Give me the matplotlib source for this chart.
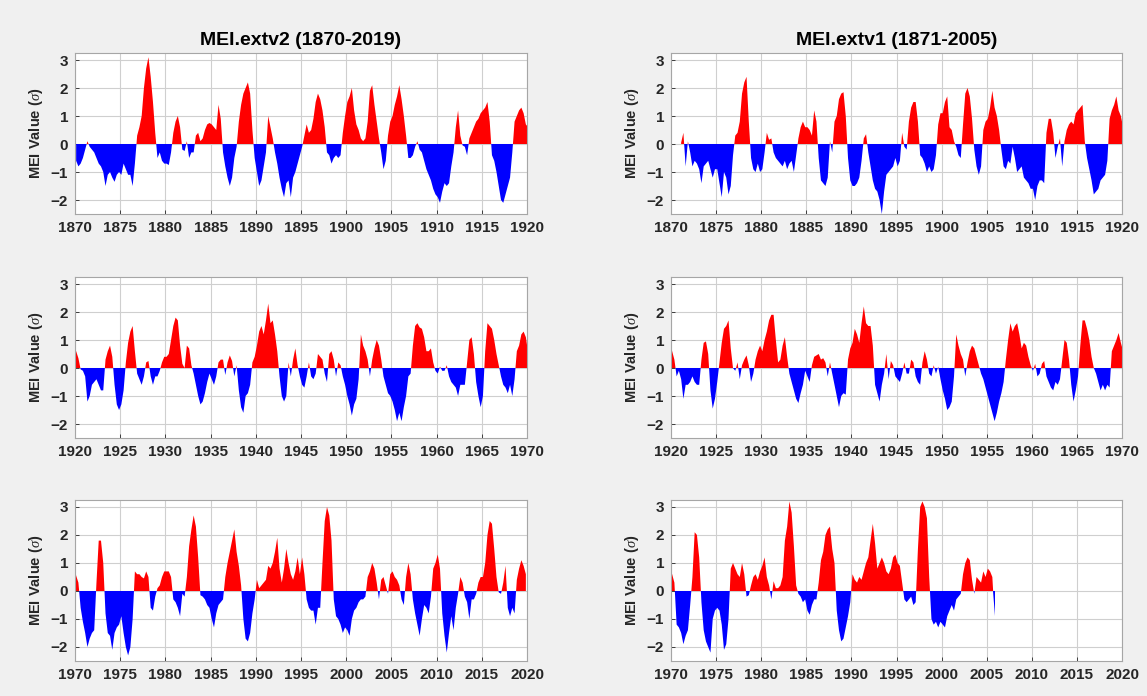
import numpy as np
import matplotlib.pyplot as plt

plt.rcParams['font.family'] = ['Liberation Sans', 'DejaVu Sans']
plt.rcParams['mathtext.fontset'] = 'custom'
plt.rcParams['mathtext.it'] = 'Liberation Serif:italic'

# Quarterly MEI values (4 per year)
v2_1870_1920 = [
    -0.6, -0.8, -0.7, -0.5,   -0.2, 0.1, -0.1, -0.2,   -0.3, -0.5, -0.7, -0.8,
    -1.0, -1.5, -1.1, -1.0,   -1.2, -1.35, -1.1, -1.0,  -1.1, -0.7, -0.9, -1.1,
    -1.1, -1.5, -0.7, 0.3,    0.6, 1.0, 2.0, 2.7,       3.1, 2.4, 1.5, 0.4,
    -0.5, -0.3, -0.6, -0.7,   -0.7, -0.75, -0.3, 0.4,   0.8, 1.0, 0.6, -0.2,
    -0.25, 0.1, -0.5, -0.3,   -0.3, 0.3, 0.4, 0.1,      0.2, 0.5, 0.7, 0.75,
    0.7, 0.6, 0.5, 1.4,       0.9, -0.3, -0.8, -1.2,    -1.5, -1.2, -0.5, -0.1,
    0.8, 1.4, 1.8, 2.0,       2.2, 1.8, 0.5, -0.5,      -1.0, -1.5, -1.3, -0.8,
    -0.3, 1.0, 0.6, 0.2,      -0.3, -0.7, -1.2, -1.6,   -1.9, -1.4, -1.3, -1.9,
    -1.2, -1.0, -0.7, -0.4,   -0.1, 0.3, 0.7, 0.4,      0.5, 0.9, 1.5, 1.8,
    1.6, 1.2, 0.6, -0.3,      -0.4, -0.7, -0.5, -0.4,   -0.5, -0.4, 0.4, 1.0,
    1.5, 1.7, 2.0, 1.2,       0.7, 0.5, 0.2, 0.1,       0.2, 0.8, 1.9, 2.1,
    1.4, 0.8, 0.2, -0.3,      -0.9, -0.6, 0.3, 0.8,     1.0, 1.4, 1.7, 2.1,
    1.6, 1.0, 0.3, -0.5,      -0.5, -0.4, -0.1, 0.1,    -0.2, -0.3, -0.6, -0.9,
    -1.1, -1.3, -1.6, -1.8,   -1.9, -2.1, -1.7, -1.4,   -1.5, -1.4, -0.8, -0.3,
    0.6, 1.2, 0.3, -0.05,     -0.1, -0.4, 0.2, 0.4,     0.6, 0.8, 0.9, 1.1,
    1.2, 1.3, 1.5, 0.8,       -0.4, -0.6, -1.0, -1.5,   -2.0, -2.1, -1.8, -1.5,
    -1.2, -0.3, 0.8, 1.0,     1.2, 1.3, 1.1, 0.7,
]
v2_1920_1970 = [
    0.6, 0.35, -0.05, -0.1,   -0.3, -1.2, -1.0, -0.6,   -0.5, -0.4, -0.6, -0.8,
    -0.8, 0.3, 0.6, 0.8,      0.4, -0.6, -1.3, -1.5,    -1.3, -0.8, 0.2, 0.9,
    1.3, 1.5, 0.6, -0.2,      -0.4, -0.6, -0.3, 0.2,    0.25, -0.3, -0.6, -0.3,
    -0.3, -0.1, 0.2, 0.4,     0.4, 0.5, 1.0, 1.5,       1.8, 1.7, 0.8, 0.15,
    0.0, 0.8, 0.7, 0.1,       -0.2, -0.6, -1.0, -1.3,   -1.2, -0.9, -0.5, -0.2,
    -0.4, -0.6, -0.3, 0.2,    0.3, 0.3, -0.25, 0.2,     0.45, 0.25, -0.3, 0.1,
    -0.8, -1.4, -1.6, -1.0,   -0.9, -0.6, 0.2, 0.4,     0.8, 1.3, 1.5, 1.2,
    1.7, 2.3, 1.6, 1.7,       1.2, 0.6, -0.3, -1.0,     -1.2, -1.0, 0.2, -0.3,
    0.3, 0.7, 0.1, -0.3,      -0.6, -0.7, -0.3, 0.2,    -0.3, -0.4, -0.2, 0.5,
    0.4, 0.3, -0.2, -0.5,     0.5, 0.6, 0.3, -0.3,      0.2, 0.1, -0.3, -0.6,
    -1.0, -1.3, -1.7, -1.3,   -1.1, -0.4, 1.2, 0.8,     0.6, 0.3, -0.3, 0.3,
    0.7, 1.0, 0.8, 0.3,       -0.3, -0.6, -0.9, -1.0,   -1.2, -1.5, -1.9, -1.6,
    -1.9, -1.4, -1.0, -0.3,   -0.2, 0.8, 1.5, 1.6,      1.45, 1.4, 1.1, 0.6,
    0.6, 0.7, 0.2, -0.1,      -0.2, 0.05, -0.1, -0.1,   0.1, -0.3, -0.5, -0.6,
    -0.7, -1.0, -0.6, -0.6,   -0.6, 0.2, 1.0, 1.1,      0.5, -0.5, -1.0, -1.4,
    -1.0, 0.6, 1.6, 1.5,      1.4, 1.0, 0.5, 0.1,       -0.3, -0.6, -0.7, -0.9,
    -0.6, -1.0, -0.4, 0.6,    0.8, 1.2, 1.3, 1.1,
]
v2_1970_2020 = [
    0.55, 0.3, -0.6, -1.1,    -1.5, -2.0, -1.7, -1.5,   -1.4, 0.3, 1.8, 1.8,
    1.0, -0.8, -1.5, -1.6,    -2.1, -1.5, -1.3, -1.2,   -0.9, -1.5, -2.0, -2.3,
    -2.0, -1.0, 0.7, 0.6,     0.6, 0.5, 0.45, 0.7,      0.5, -0.6, -0.7, -0.2,
    0.1, 0.2, 0.5, 0.7,       0.7, 0.7, 0.5, -0.3,      -0.4, -0.6, -0.9, -0.1,
    -0.2, 0.5, 1.6, 2.2,      2.7, 2.3, 1.2, -0.15,     -0.2, -0.3, -0.5, -0.6,
    -1.0, -1.3, -0.8, -0.5,   -0.4, -0.3, 0.5, 1.0,     1.4, 1.8, 2.2, 1.4,
    0.9, 0.2, -1.0, -1.7,     -1.8, -1.5, -0.8, -0.3,   0.4, 0.1, 0.2, 0.3,
    0.4, 0.9, 0.8, 1.0,       1.4, 1.9, 0.8, 0.3,       0.8, 1.5, 1.0, 0.6,
    0.4, 0.7, 1.2, 0.6,       1.2, 0.6, -0.3, -0.6,     -0.7, -0.7, -1.2, -0.6,
    -0.6, 1.0, 2.5, 3.0,      2.7, 1.8, -0.3, -0.9,     -1.0, -1.2, -1.5, -1.3,
    -1.4, -1.6, -1.0, -0.7,   -0.6, -0.4, -0.3, -0.3,   -0.2, 0.5, 0.7, 1.0,
    0.8, 0.3, -0.3, 0.4,      0.5, 0.2, -0.1, 0.6,      0.7, 0.5, 0.4, 0.2,
    -0.3, -0.5, 0.5, 1.0,     0.6, -0.3, -0.8, -1.2,    -1.6, -1.0, -0.5, -0.6,
    -0.8, -0.2, 0.8, 1.0,     1.3, 0.8, -0.8, -1.6,     -2.2, -1.5, -0.9, -1.4,
    -0.6, -0.1, 0.5, 0.3,     -0.2, -0.4, -1.0, -0.3,   -0.3, -0.1, 0.3, 0.5,
    0.5, 1.0, 2.0, 2.5,       2.4, 1.5, 0.5, -0.05,     -0.1, 0.3, 0.9, -0.6,
    -0.9, -0.6, -0.8, 0.4,    0.8, 1.1, 0.9, 0.6,
]
v1_1871_1920 = [
    0.05, 0.4, -0.8, 0.1,     -0.3, -0.8, -0.6, -0.7,   -0.9, -1.4, -0.8, -0.7,
    -0.6, -0.9, -1.2, -0.9,   -0.9, -1.4, -1.9, -1.0,   -1.2, -1.8, -1.5, -0.4,
    0.3, 0.4, 0.8, 1.8,       2.2, 2.4, 0.8, -0.5,      -0.9, -1.0, -0.7, -1.0,
    -0.9, -0.3, 0.4, 0.15,    0.2, -0.3, -0.5, -0.6,    -0.7, -0.8, -0.6, -0.9,
    -0.7, -0.6, -1.0, -0.4,   0.2, 0.6, 0.8, 0.6,       0.6, 0.5, 0.3, 1.2,
    0.8, -0.5, -1.3, -1.4,    -1.5, -1.2, 0.1, -0.3,    0.8, 1.0, 1.6, 1.8,
    1.85, 1.0, -0.5, -1.3,    -1.5, -1.5, -1.4, -1.2,   -0.6, 0.2, 0.35, -0.3,
    -0.8, -1.3, -1.6, -1.7,   -2.0, -2.5, -1.7, -1.1,   -1.0, -0.9, -0.8, -0.5,
    -0.8, -0.6, 0.4, -0.1,    -0.2, 0.8, 1.3, 1.5,      1.5, 0.8, -0.4, -0.5,
    -0.7, -1.0, -0.8, -1.0,   -0.9, -0.4, 0.7, 1.1,     1.1, 1.5, 1.7, 0.6,
    0.5, 0.1, -0.1, -0.4,     -0.5, 0.7, 1.8, 2.0,      1.7, 0.9, -0.2, -0.8,
    -1.1, -0.8, 0.5, 0.8,     0.9, 1.3, 1.9, 1.3,       1.0, 0.5, -0.2, -0.8,
    -0.9, -0.6, -0.7, -0.1,   -0.5, -1.0, -0.9, -0.8,   -1.2, -1.3, -1.4, -1.6,
    -1.6, -2.0, -1.5, -1.3,   -1.3, -1.4, 0.4, 0.9,     0.9, 0.4, -0.5, -0.1,
    0.2, -0.8, 0.1, 0.5,      0.7, 0.8, 0.7, 1.1,       1.2, 1.3, 1.4, 0.1,
    -0.5, -0.9, -1.3, -1.8,   -1.7, -1.6, -1.3, -1.2,   -1.1, -0.6, 0.9, 1.2,
    1.4, 1.7, 1.2, 1.0,
]
v1_1920_1970 = [
    0.6, 0.3, -0.3, -0.1,     -0.4, -1.1, -0.6, -0.6,   -0.5, -0.3, -0.5, -0.6,
    -0.6, 0.3, 0.9, 0.95,     0.5, -0.8, -1.45, -1.1,   -0.5, 0.2, 0.9, 1.4,
    1.5, 1.7, 0.7, 0.0,       -0.1, 0.2, -0.4, 0.1,     0.3, 0.45, 0.1, -0.5,
    -0.2, 0.3, 0.6, 0.8,      0.6, 1.0, 1.3, 1.7,       1.9, 1.9, 1.0, 0.2,
    0.3, 0.8, 1.1, 0.4,       -0.2, -0.5, -0.8, -1.1,   -1.25, -0.9, -0.6, -0.1,
    -0.3, -0.5, 0.1, 0.4,     0.45, 0.5, 0.3, 0.35,     0.2, -0.3, 0.2, -0.2,
    -0.6, -1.0, -1.4, -1.0,   -0.9, -0.95, 0.3, 0.7,    0.9, 1.4, 1.2, 0.9,
    1.6, 2.2, 1.6, 1.5,       1.5, 0.8, -0.6, -0.9,     -1.2, -0.6, -0.2, 0.5,
    -0.4, 0.25, 0.1, -0.3,    -0.4, -0.5, -0.2, 0.2,    -0.2, -0.2, 0.3, 0.2,
    -0.3, -0.5, -0.6, 0.2,    0.6, 0.3, -0.2, -0.3,     0.1, -0.2, 0.05, -0.4,
    -0.8, -1.1, -1.5, -1.4,   -1.2, -0.3, 1.2, 0.8,     0.5, 0.3, -0.3, 0.2,
    0.6, 0.8, 0.7, 0.4,       0.1, -0.2, -0.4, -0.7,    -1.0, -1.3, -1.6, -1.9,
    -1.6, -1.2, -0.9, -0.5,   0.3, 1.0, 1.6, 1.3,       1.5, 1.6, 1.2, 0.7,
    0.9, 0.8, 0.4, 0.1,       -0.1, 0.15, -0.3, -0.2,   0.15, 0.25, -0.3, -0.5,
    -0.7, -0.8, -0.5, -0.6,   -0.4, 0.3, 1.0, 0.9,      0.3, -0.6, -1.2, -0.8,
    -0.3, 0.8, 1.7, 1.7,      1.4, 1.0, 0.4, 0.0,       -0.2, -0.5, -0.8, -0.6,
    -0.8, -0.6, -0.7, 0.6,    0.8, 1.0, 1.25, 0.9,
]
v1_1970_2006 = [
    0.6, 0.3, -1.2, -1.3,     -1.5, -1.9, -1.6, -1.4,   -0.5, 0.5, 2.1, 2.0,
    1.2, -0.4, -1.4, -1.8,    -2.0, -2.2, -1.0, -0.7,   -0.6, -0.7, -1.2, -2.1,
    -1.9, -1.0, 0.8, 1.0,     0.8, 0.6, 0.5, 1.0,       0.6, -0.2, -0.15, 0.2,
    0.5, 0.6, 0.4, 0.7,       0.9, 1.2, 0.5, 0.2,       -0.3, 0.35, 0.1, 0.1,
    0.2, 0.5, 1.8, 2.3,       3.2, 2.8, 1.6, 0.2,       -0.1, -0.2, -0.4, -0.3,
    -0.7, -0.85, -0.5, -0.3,  -0.3, 0.3, 1.1, 1.4,      2.0, 2.2, 2.3, 1.5,
    1.0, -0.7, -1.4, -1.8,    -1.7, -1.3, -0.9, -0.4,   0.6, 0.4, 0.3, 0.5,
    0.4, 0.7, 1.0, 1.2,       1.8, 2.4, 1.7, 0.8,       1.0, 1.2, 1.0, 0.7,
    0.6, 0.8, 1.2, 1.3,       1.0, 0.9, 0.3, -0.3,      -0.4, -0.3, -0.2, -0.5,
    -0.4, 1.5, 3.0, 3.2,      3.0, 2.6, 0.5, -1.0,      -1.2, -1.1, -1.3, -1.1,
    -1.2, -1.3, -0.9, -0.7,   -0.5, -0.7, -0.3, -0.2,   -0.1, 0.6, 1.0, 1.2,
    1.1, 0.4, -0.1, 0.5,      0.4, 0.3, 0.7, 0.5,       0.8, 0.7, 0.5, -0.9,
]

v2_start, v1_start = 1870, 1871
titles = ["MEI.extv2 (1870-2019)", "MEI.extv1 (1871-2005)"]
row_ranges = [(1870, 1920), (1920, 1970), (1970, 2020)]
yticks = [-2, -1, 0, 1, 2, 3]

v2 = np.array(v2_1870_1920 + v2_1920_1970 + v2_1970_2020)
v1 = np.array(v1_1871_1920 + v1_1920_1970 + v1_1970_2006)
x2 = v2_start + (np.arange(len(v2)) + 0.5) / 4.0
x1 = v1_start + (np.arange(len(v1)) + 0.5) / 4.0
series = [(x2, v2), (x1, v1)]

W, H = 1147, 696
fig = plt.figure(figsize=(W / 100, H / 100), dpi=100, facecolor='#f0f0f0')
cols = [(75, 527), (671, 1122)]
rows = [(53, 214), (277, 438), (500, 661)]

for c, (l, r) in enumerate(cols):
    xs, ys = series[c]
    for ri, (t, b) in enumerate(rows):
        ax = fig.add_axes([l / W, 1 - b / H, (r - l) / W, (b - t) / H])
        ax.set_facecolor('white')
        ax.fill_between(xs, 0, ys, where=ys >= 0, interpolate=True,
                        color='#ff0000', lw=0)
        ax.fill_between(xs, 0, ys, where=ys <= 0, interpolate=True,
                        color='#0000ff', lw=0)
        x0, x1_ = row_ranges[ri]
        ax.set_xlim(x0, x1_)
        ax.set_ylim(-2.5, 3.25)
        ax.set_xticks(np.arange(x0, x1_ + 1, 5))
        ax.set_yticks(yticks)
        ax.grid(True, color='#cfcfcf', lw=0.8)
        ax.set_axisbelow(True)
        ax.tick_params(direction='in', length=3, width=0.6, colors='#262626',
                       labelsize=11, pad=5)
        for lab in ax.get_xticklabels() + ax.get_yticklabels():
            lab.set_fontweight('bold')
        for s in ax.spines.values():
            s.set_color('#a6a6a6')
            s.set_linewidth(0.8)
        ax.set_ylabel(r'MEI Value ($\sigma$)', fontsize=10.5, fontweight='bold',
                      color='#262626', labelpad=4)
        if ri == 0:
            ax.set_title(titles[c], fontsize=14, fontweight='bold', pad=6)

fig.savefig('out.png', dpi=100, facecolor=fig.get_facecolor())
